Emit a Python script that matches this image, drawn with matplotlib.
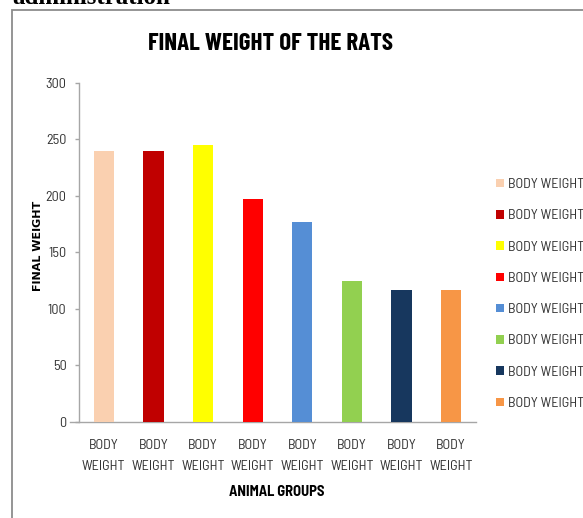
import matplotlib
matplotlib.use("Agg")
import matplotlib.pyplot as plt
from matplotlib.patches import Rectangle

# ---- data ----
groups = ["BODY\nWEIGHT"] * 8
legend_labels = ["BODY WEIGHT"] * 8
values = [240, 240, 245, 197, 177, 125, 117, 117]
colors = ["#FAD0B0", "#C00000", "#FFFF00", "#FF0000", "#558ED5", "#92D050", "#17375E", "#F79646"]
yticks = [0, 50, 100, 150, 200, 250, 300]
title = "FINAL WEIGHT OF THE RATS"
xlabel = "ANIMAL GROUPS"
ylabel = "FINAL WEIGHT"

W, H = 583, 518
fig = plt.figure(figsize=(W / 100, H / 100), dpi=100)
fig.patch.set_facecolor("white")

cond = ["Barlow Condensed", "DejaVu Sans"]
semi = ["Barlow Semi Condensed", "DejaVu Sans"]
txtc = "#333333"

# border of the embedded chart (cut off at right and bottom)
fig.add_artist(Rectangle((12 / W, -0.2), 1.5, (H - 10) / H + 0.2, transform=fig.transFigure,
                         fill=False, edgecolor="#8C8C8C", lw=1.3))
# cropped caption text above the chart
fig.text(12 / W, 1 - 4 / H, "administration", family=["Liberation Serif", "DejaVu Serif"],
         weight="bold", size=18, va="baseline", ha="left", color="black")

ax = fig.add_axes([79 / W, (H - 422) / H, 397 / W, 339.3 / H])
x = list(range(len(values)))
for i, (v, c, lab) in enumerate(zip(values, colors, legend_labels)):
    ax.bar(x[i], v, width=0.41, color=c, label=lab, zorder=3)

ax.set_xlim(-0.5, len(values) - 0.5)
ax.set_ylim(0, 300)
ax.set_yticks(yticks)
ax.set_yticklabels([str(t) for t in yticks], family=semi, size=10.2, color=txtc)
ax.set_xticks(x)
ax.set_xticklabels(groups, family=semi, size=10.2, color=txtc, linespacing=1.85)
ax.tick_params(axis="x", length=0, pad=12)
ax.tick_params(axis="y", length=3, width=1, color="#A6A6A6", pad=6)
for s in ["top", "right"]:
    ax.spines[s].set_visible(False)
for s in ["left", "bottom"]:
    ax.spines[s].set_color("#A6A6A6")
    ax.spines[s].set_linewidth(1)
ax.spines["bottom"].set_bounds(-0.68, len(values) - 0.5)
ax.spines["bottom"].set_clip_on(False)

fig.text(270 / W, 1 - 44 / H, title, family=cond, weight="bold", size=18,
         ha="center", va="center", color="black")
fig.text(277 / W, 1 - 492 / H, xlabel, family=semi, weight="bold", size=10.5,
         ha="center", va="center", color="black")
fig.text(38 / W, 1 - 246 / H, ylabel, family="DejaVu Sans", weight="bold", size=8,
         rotation=90, ha="center", va="center", color="black")

leg = ax.legend(loc="center left", bbox_to_anchor=(496 / W, 1 - 294 / H),
                bbox_transform=fig.transFigure, frameon=False, borderpad=0, borderaxespad=0,
                handlelength=0.55, handleheight=0.55, handletextpad=0.3, labelspacing=1.29,
                prop={"family": semi, "size": 10.2})
for t in leg.get_texts():
    t.set_color(txtc)

fig.savefig("out.png", dpi=100)
